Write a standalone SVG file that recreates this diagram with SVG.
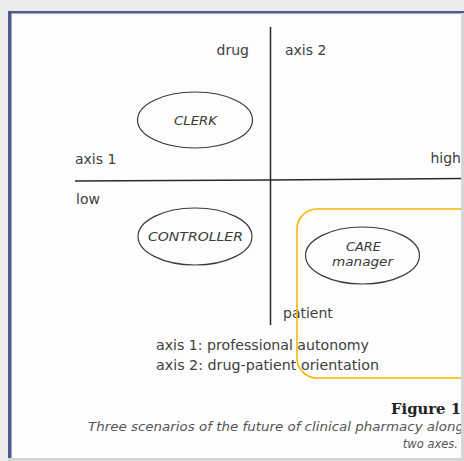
<svg xmlns="http://www.w3.org/2000/svg" width="464" height="461" viewBox="0 0 464 461">
<style>
.lbl{font-family:"DejaVu Sans","Liberation Sans",sans-serif;font-size:14px;fill:#404040}
.nd ellipse{fill:none;stroke:#3a3a3a;stroke-width:1.2}
.nt{font-family:"DejaVu Sans","Liberation Sans",sans-serif;font-style:italic;font-size:12.5px;fill:#3a3a3a;text-anchor:middle}
.ax{stroke:#2a2a2a;stroke-width:1.5;fill:none}
.cap{font-family:"DejaVu Sans","Liberation Sans",sans-serif;font-style:italic;font-size:11.5px;fill:#555}
</style>
<defs><clipPath id="panel"><rect x="8" y="12" width="453" height="446"/></clipPath></defs>
<rect width="464" height="461" fill="#ececec"/>
<rect x="8" y="12" width="453" height="446" fill="#fdfdfd"/>
<rect x="8" y="11" width="456" height="2.5" fill="#4f5a8e"/>
<rect x="8" y="11" width="3.5" height="450" fill="#4f5a8e"/>
<rect x="461" y="13" width="3" height="448" fill="#d6d6d6"/>
<rect x="8" y="458" width="456" height="3" fill="#d6d6d6"/>
<g clip-path="url(#panel)">
<g id="connectors">
<line class="ax" x1="270.5" y1="27" x2="270.5" y2="325"/>
<path class="ax" d="M75 181 L270 180 L464 178.5"/>
</g>
<g id="labels">
<text class="lbl" x="249" y="55" text-anchor="end">drug</text>
<text class="lbl" x="285" y="55">axis 2</text>
<text class="lbl" x="75" y="164">axis 1</text>
<text class="lbl" x="461" y="163" text-anchor="end">high</text>
<text class="lbl" x="76" y="204">low</text>
<text class="lbl" x="283" y="318">patient</text>
<text class="lbl" x="156" y="350" textLength="213" lengthAdjust="spacingAndGlyphs">axis 1: professional autonomy</text>
<text class="lbl" x="156" y="370" textLength="223" lengthAdjust="spacingAndGlyphs">axis 2: drug-patient orientation</text>
</g>
<g id="clerk" class="nd">
<ellipse cx="195" cy="120" rx="57.5" ry="28"/>
<text class="nt" x="195.5" y="124.5" textLength="43" lengthAdjust="spacingAndGlyphs">CLERK</text>
</g>
<g id="controller" class="nd">
<ellipse cx="195" cy="236.5" rx="57" ry="28.5"/>
<text class="nt" x="195.5" y="241" textLength="95" lengthAdjust="spacingAndGlyphs">CONTROLLER</text>
</g>
<g id="care-manager" class="nd">
<ellipse cx="362.5" cy="255.5" rx="57" ry="28.5"/>
<text class="nt" x="363.5" y="250.5" textLength="35" lengthAdjust="spacingAndGlyphs">CARE</text>
<text class="nt" x="362.5" y="265.5" textLength="61" lengthAdjust="spacingAndGlyphs">manager</text>
</g>
<g id="highlight">
<rect x="297" y="209" width="190" height="169" rx="20" ry="20" fill="none" stroke="#f4b400" stroke-width="1.5"/>
</g>
<g id="caption">
<text x="461" y="414" text-anchor="end" font-family="'DejaVu Serif','Liberation Serif',serif" font-weight="bold" font-size="14" fill="#222" textLength="70" lengthAdjust="spacingAndGlyphs">Figure 1</text>
<text class="cap" x="88" y="431" textLength="376" lengthAdjust="spacingAndGlyphs">Three scenarios of the future of clinical pharmacy along</text>
<text class="cap" x="458" y="448" text-anchor="end">two axes.</text>
</g>
</g>
</svg>
